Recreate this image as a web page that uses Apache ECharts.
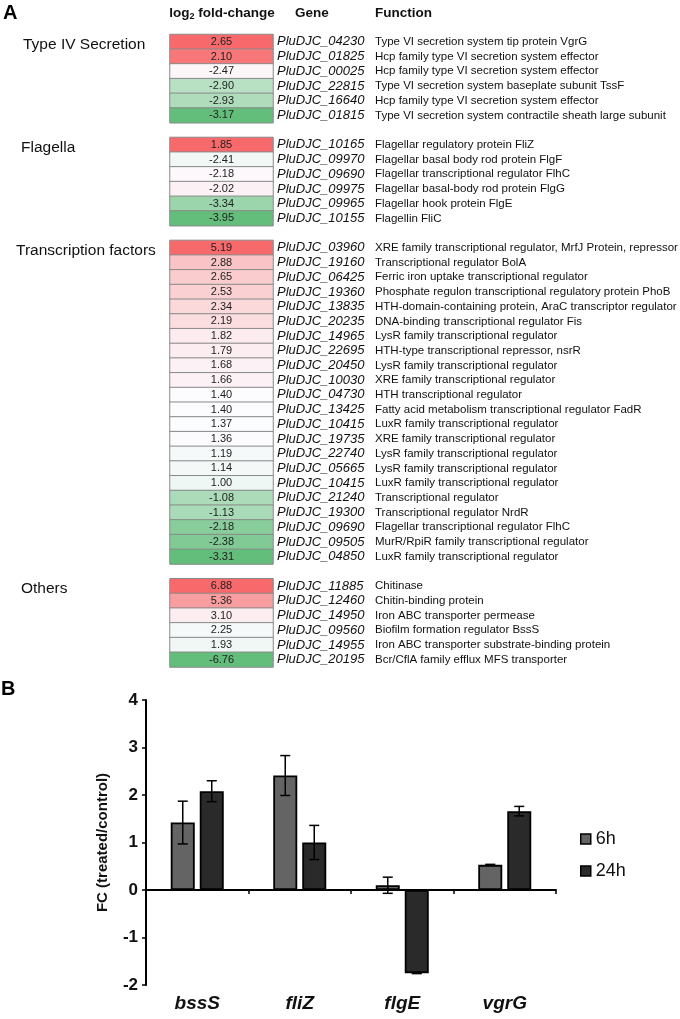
<!DOCTYPE html>
<html><head><meta charset="utf-8">
<script src="https://cdn.jsdelivr.net/npm/echarts@6/dist/echarts.min.js"></script>
<style>html,body{margin:0;padding:0;background:#fff}#c{width:680px;height:1019px}</style>
</head><body><div id="c"></div>
<script>
// ---------- Panel A data ----------
const groupNames = ['Type IV Secretion', 'Flagella', 'Transcription factors', 'Others'];

const typeIVValues = [2.65, 2.10, -2.47, -2.90, -2.93, -3.17];
const typeIVGenes = ['PluDJC_04230','PluDJC_01825','PluDJC_00025','PluDJC_22815','PluDJC_16640','PluDJC_01815'];
const typeIVFunctions = ['Type VI secretion system tip protein VgrG','Hcp family type VI secretion system effector','Hcp family type VI secretion system effector','Type VI secretion system baseplate subunit TssF','Hcp family type VI secretion system effector','Type VI secretion system contractile sheath large subunit'];

const flagellaValues = [1.85, -2.41, -2.18, -2.02, -3.34, -3.95];
const flagellaGenes = ['PluDJC_10165','PluDJC_09970','PluDJC_09690','PluDJC_09975','PluDJC_09965','PluDJC_10155'];
const flagellaFunctions = ['Flagellar regulatory protein FliZ','Flagellar basal body rod protein FlgF','Flagellar transcriptional regulator FlhC','Flagellar basal-body rod protein FlgG','Flagellar hook protein FlgE','Flagellin FliC'];

const tfValues = [5.19, 2.88, 2.65, 2.53, 2.34, 2.19, 1.82, 1.79, 1.68, 1.66, 1.40, 1.40, 1.37, 1.36, 1.19, 1.14, 1.00, -1.08, -1.13, -2.18, -2.38, -3.31];
const tfGenes = ['PluDJC_03960','PluDJC_19160','PluDJC_06425','PluDJC_19360','PluDJC_13835','PluDJC_20235','PluDJC_14965','PluDJC_22695','PluDJC_20450','PluDJC_10030','PluDJC_04730','PluDJC_13425','PluDJC_10415','PluDJC_19735','PluDJC_22740','PluDJC_05665','PluDJC_10415','PluDJC_21240','PluDJC_19300','PluDJC_09690','PluDJC_09505','PluDJC_04850'];
const tfFunctions = ['XRE family transcriptional regulator, MrfJ Protein, repressor','Transcriptional regulator BolA','Ferric iron uptake transcriptional regulator','Phosphate regulon transcriptional regulatory protein PhoB','HTH-domain-containing protein, AraC transcriptor regulator','DNA-binding transcriptional regulator Fis','LysR family transcriptional regulator','HTH-type transcriptional repressor, nsrR','LysR family transcriptional regulator','XRE family transcriptional regulator','HTH transcriptional regulator','Fatty acid metabolism transcriptional regulator FadR','LuxR family transcriptional regulator','XRE family transcriptional regulator','LysR family transcriptional regulator','LysR family transcriptional regulator','LuxR family transcriptional regulator','Transcriptional regulator','Transcriptional regulator NrdR','Flagellar transcriptional regulator FlhC','MurR/RpiR family transcriptional regulator','LuxR family transcriptional regulator'];

const otherValues = [6.88, 5.36, 3.10, 2.25, 1.93, -6.76];
const otherGenes = ['PluDJC_11885','PluDJC_12460','PluDJC_14950','PluDJC_09560','PluDJC_14955','PluDJC_20195'];
const otherFunctions = ['Chitinase','Chitin-binding protein','Iron ABC transporter permease','Biofilm formation regulator BssS','Iron ABC transporter substrate-binding protein','Bcr/CflA family efflux MFS transporter'];

// ---------- Panel B data ----------
const qpcrGenes = ['bssS', 'fliZ', 'flgE', 'vgrG'];
const seriesNames = ['6h', '24h'];
const fc6h = [1.42, 2.41, 0.10, 0.53];
const err6h = [0.45, 0.42, 0.17, 0.01];
const fc24h = [2.08, 1.00, -1.75, 1.66];
const err24h = [0.22, 0.36, 0.01, 0.10];
const yTicks = {min: -2, max: 4, interval: 1};

// ---------- build heatmap rows ----------
const groups = [
  {v: typeIVValues, g: typeIVGenes, f: typeIVFunctions},
  {v: flagellaValues, g: flagellaGenes, f: flagellaFunctions},
  {v: tfValues, g: tfGenes, f: tfFunctions},
  {v: otherValues, g: otherGenes, f: otherFunctions}
];
const MINC = [99, 190, 123], MIDC = [252, 252, 255], MAXC = [248, 105, 107];
function mix(a, b, t) { return 'rgb(' + a.map((x, i) => Math.round(x + (b[i] - x) * t)).join(',') + ')'; }
function median(arr) { const s = arr.slice().sort((a, b) => a - b); const n = s.length; return n % 2 ? s[(n - 1) / 2] : (s[n / 2 - 1] + s[n / 2]) / 2; }
function scaleColor(v, arr) {
  const mn = Math.min(...arr), mx = Math.max(...arr), md = median(arr);
  if (v >= md) return mix(MIDC, MAXC, mx === md ? 0 : (v - md) / (mx - md));
  return mix(MIDC, MINC, (md - v) / (md - mn));
}
const leftLabels = [], geneLabels = [], funcLabels = [], heatData = [];
groups.forEach((grp, gi) => {
  if (gi > 0) { leftLabels.push(''); geneLabels.push(''); funcLabels.push(''); }
  grp.v.forEach((v, i) => {
    const row = leftLabels.length;
    leftLabels.push(i === 0 ? groupNames[gi] : '');
    geneLabels.push(grp.g[i]);
    funcLabels.push(grp.f[i]);
    heatData.push({value: [0, row, v], itemStyle: {color: scaleColor(v, grp.v)}});
  });
});

const FONT = 'Liberation Sans, Arial, sans-serif';
const BAR_W = 24, BAR_GAP = 5;
const groupPad = [7, 5, 0, 5];

const chart = echarts.init(document.getElementById('c'), null, {renderer: 'canvas'});
function errorSeries(name, vals, errs, sign) {
  return {
    type: 'custom', name: name + ' err', xAxisIndex: 1, yAxisIndex: 3, z: 10, silent: true,
    data: vals.map((v, i) => [i, v, errs[i]]),
    renderItem: function (params, api) {
      const c = api.value(0), v = api.value(1), e = api.value(2);
      const off = sign * (BAR_W + BAR_GAP) / 2;
      const p1 = api.coord([c, v + e]), p2 = api.coord([c, v - e]);
      const x = p1[0] + off, cap = 5;
      const st = {stroke: '#000', lineWidth: 1.5};
      return {type: 'group', children: [
        {type: 'line', shape: {x1: x, y1: p1[1], x2: x, y2: p2[1]}, style: st},
        {type: 'line', shape: {x1: x - cap, y1: p1[1], x2: x + cap, y2: p1[1]}, style: st},
        {type: 'line', shape: {x1: x - cap, y1: p2[1], x2: x + cap, y2: p2[1]}, style: st}
      ]};
    }
  };
}

const groupRich = {};
groupPad.forEach((p, i) => { groupRich['g' + i] = {fontSize: 15.5, color: '#111', fontFamily: FONT, padding: [5, 0, 0, p]}; });

const option = {
  animation: false,
  textStyle: {fontFamily: FONT},
  grid: [
    {left: 170, width: 103, top: 34.5, height: 632.5, outerBoundsMode: 'none', containLabel: false},
    {left: 146, right: 124, top: 700, bottom: 34, outerBoundsMode: 'none', containLabel: false}
  ],
  xAxis: [
    {type: 'category', gridIndex: 0, data: ['v'], show: false},
    {type: 'category', gridIndex: 1, data: qpcrGenes, position: 'bottom',
      axisLine: {onZero: true, lineStyle: {color: '#000', width: 2}},
      axisTick: {show: true, length: 4, lineStyle: {color: '#000', width: 1.5}},
      axisLabel: {show: false}},
    {type: 'category', gridIndex: 1, data: qpcrGenes, position: 'bottom',
      axisLine: {show: false, onZero: false}, axisTick: {show: false},
      axisLabel: {show: true, margin: 9, fontSize: 19, fontWeight: 'bold', fontStyle: 'italic', color: '#111', fontFamily: FONT}}
  ],
  yAxis: [
    {type: 'category', gridIndex: 0, inverse: true, data: leftLabels, position: 'left',
      axisLine: {show: false}, axisTick: {show: false},
      axisLabel: {interval: 0, align: 'left', margin: 154, fontSize: 15.5, color: '#111', fontFamily: FONT,
        formatter: function (val) { const gi = groupNames.indexOf(val); return gi < 0 ? '' : '{g' + gi + '|' + val + '}'; },
        rich: groupRich}},
    {type: 'category', gridIndex: 0, inverse: true, data: geneLabels, position: 'right',
      axisLine: {show: false}, axisTick: {show: false},
      axisLabel: {interval: 0, margin: 4, fontSize: 13, fontStyle: 'italic', color: '#111', fontFamily: FONT}},
    {type: 'category', gridIndex: 0, inverse: true, data: funcLabels, position: 'right', offset: 98,
      axisLine: {show: false}, axisTick: {show: false},
      axisLabel: {interval: 0, margin: 4, fontSize: 11.5, color: '#111', fontFamily: FONT}},
    {type: 'value', gridIndex: 1, min: yTicks.min, max: yTicks.max, interval: yTicks.interval,
      name: 'FC (treated/control)', nameLocation: 'middle', nameGap: 36,
      nameTextStyle: {fontSize: 15, fontWeight: 'bold', color: '#111', fontFamily: FONT},
      axisLine: {show: true, lineStyle: {color: '#000', width: 2}},
      axisTick: {show: true, length: 4, lineStyle: {color: '#000', width: 1.5}},
      splitLine: {show: false},
      axisLabel: {fontSize: 17, fontWeight: 'bold', color: '#111', margin: 8, fontFamily: FONT}}
  ],
  legend: {
    data: seriesNames, orient: 'vertical', left: 575, top: 824, itemWidth: 10, itemHeight: 10, itemGap: 12,
    icon: 'rect', itemStyle: {borderColor: '#000', borderWidth: 1.5},
    textStyle: {fontSize: 18, color: '#111', fontFamily: FONT, lineHeight: 20}
  },
  graphic: [
    {type: 'text', left: 3, top: 3, style: {text: 'A', fontSize: 20, fontWeight: 'bold', fill: '#000', fontFamily: FONT}},
    {type: 'text', left: 1, top: 679, style: {text: 'B', fontSize: 20, fontWeight: 'bold', fill: '#000', fontFamily: FONT}},
    {type: 'text', x: 222, y: 13, style: {text: '{b|log}{s|2}{b| fold-change}', align: 'center', verticalAlign: 'middle', fill: '#111',
      rich: {b: {fontSize: 13.5, fontWeight: 'bold', fontFamily: FONT, fill: '#111'}, s: {fontSize: 9, fontWeight: 'bold', fontFamily: FONT, fill: '#111', verticalAlign: 'bottom', padding: [8, 0, 0, 0]}}}},
    {type: 'text', x: 295, y: 13, style: {text: 'Gene', fontSize: 13.5, fontWeight: 'bold', fill: '#111', fontFamily: FONT, verticalAlign: 'middle'}},
    {type: 'text', x: 375, y: 13, style: {text: 'Function', fontSize: 13.5, fontWeight: 'bold', fill: '#111', fontFamily: FONT, verticalAlign: 'middle'}}
  ],
  series: [
    {type: 'heatmap', xAxisIndex: 0, yAxisIndex: 0, data: heatData,
      itemStyle: {borderColor: '#8a8a8a', borderWidth: 1},
      label: {show: true, fontSize: 11, color: '#222', fontFamily: FONT, formatter: p => p.value[2].toFixed(2)},
      emphasis: {disabled: true}},
    {type: 'bar', name: seriesNames[0], xAxisIndex: 1, yAxisIndex: 3, data: fc6h, barWidth: BAR_W, barGap: (BAR_GAP / BAR_W * 100) + '%',
      itemStyle: {color: '#646464', borderColor: '#000', borderWidth: 1.8}},
    {type: 'bar', name: seriesNames[1], xAxisIndex: 1, yAxisIndex: 3, data: fc24h, barWidth: BAR_W,
      itemStyle: {color: '#2a2a2a', borderColor: '#000', borderWidth: 1.8}},
    errorSeries(seriesNames[0], fc6h, err6h, -1),
    errorSeries(seriesNames[1], fc24h, err24h, 1)
  ]
};
chart.setOption(option);
</script></body></html>
